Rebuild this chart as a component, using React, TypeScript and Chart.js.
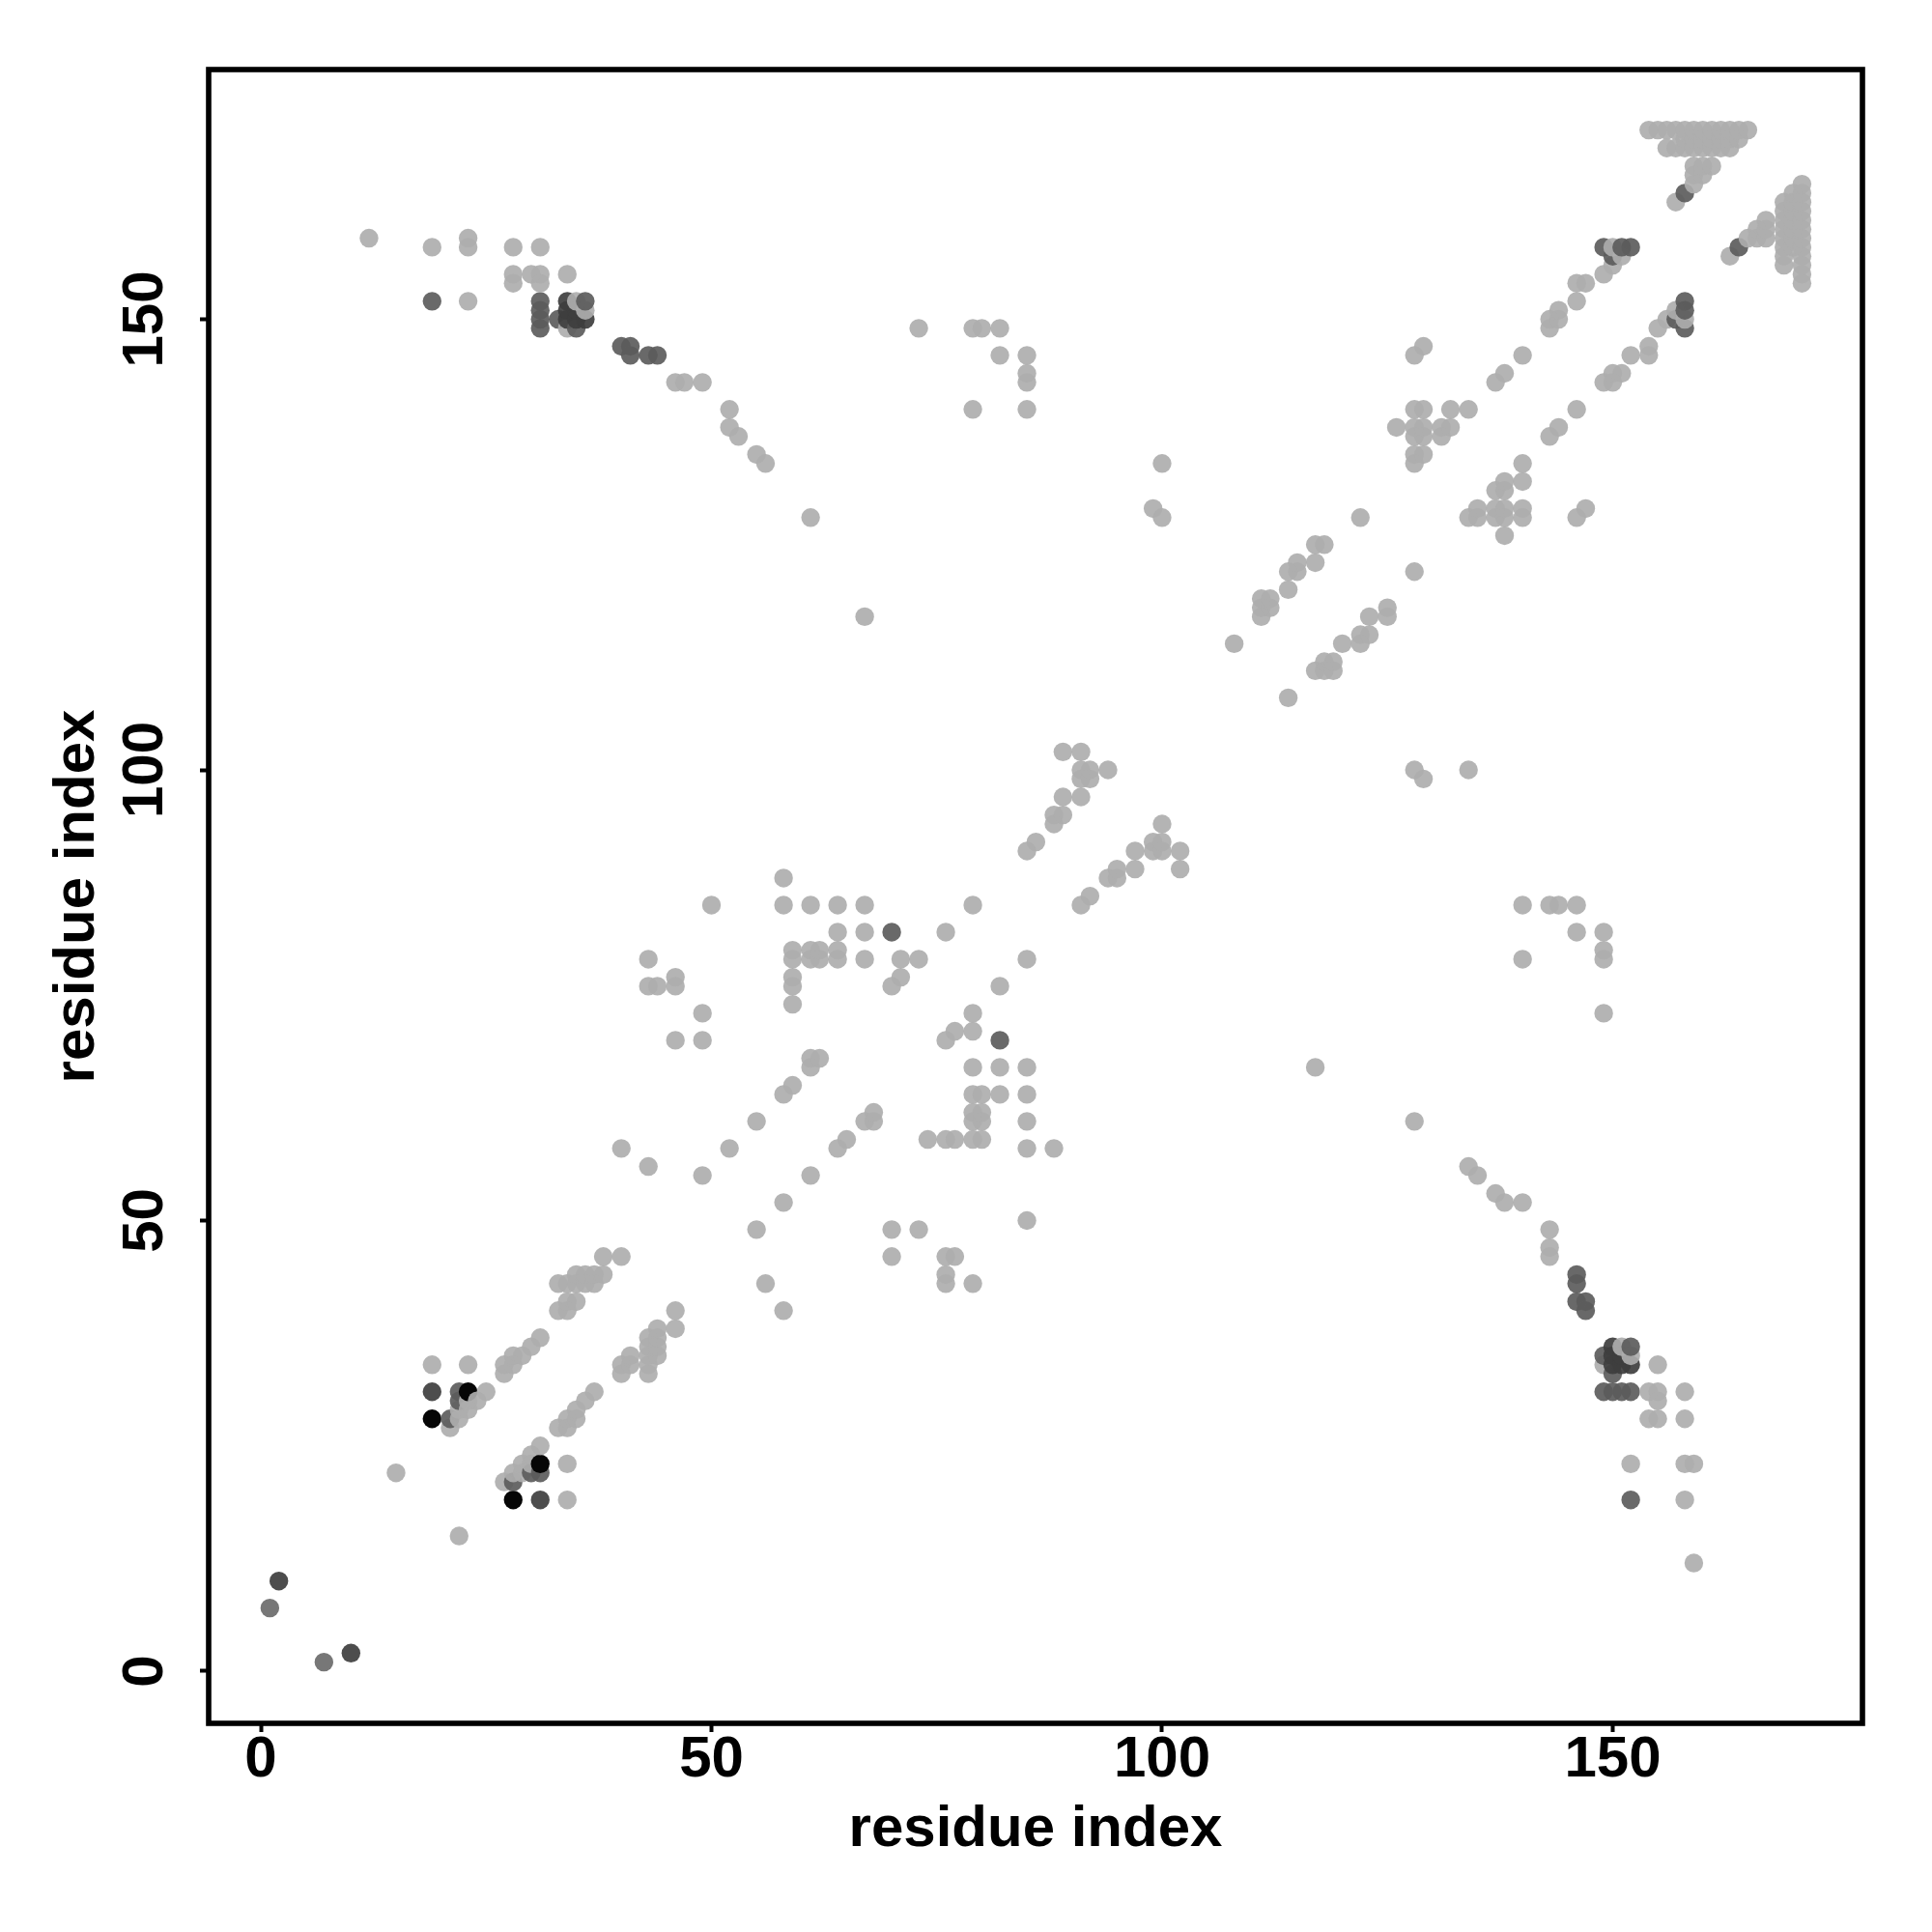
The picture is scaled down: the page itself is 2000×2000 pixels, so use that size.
import React, { useEffect, useRef } from "react";
import { Chart, registerables } from "chart.js";

Chart.register(...registerables);

type Pair = [number, number];

const tickValues = [0, 50, 100, 150];
const axisTitle = "residue index";

// Contacts are symmetric: each pair [i, j] appears at (i, j) and (j, i).
const lightContacts: Pair[] = [
  [15, 22], [19, 34], [23, 34], [21, 27], [22, 28], [22, 29], [23, 29], [23, 30], [24, 30], [25, 31],
  [27, 33], [27, 34], [28, 34], [28, 35], [29, 35], [30, 36], [31, 37],
  [33, 40], [34, 40], [34, 41], [35, 41], [33, 43], [34, 43], [35, 43], [36, 43], [35, 44], [36, 44],
  [37, 43], [37, 44], [38, 44], [38, 46], [40, 46],
  [40, 58], [43, 56], [43, 79], [43, 76], [44, 76], [46, 77], [46, 76], [46, 70], [49, 73], [49, 70],
  [49, 55], [50, 85], [52, 58], [55, 61], [58, 64], [59, 65], [61, 67], [61, 68], [62, 68],
  [58, 88], [58, 85], [61, 85], [64, 85], [67, 85], [79, 85], [85, 91], [86, 92],
  [64, 82], [67, 82], [76, 82], [59, 80], [59, 79], [61, 80], [61, 79], [62, 80], [62, 79], [64, 80],
  [64, 79], [67, 79], [71, 79], [73, 79], [59, 77], [59, 76], [59, 74], [71, 77], [70, 76],
  [88, 94], [88, 95], [89, 95], [89, 97], [91, 97], [89, 102], [91, 102], [91, 100], [92, 100], [91, 99],
  [92, 99], [94, 100],
  [73, 149], [79, 149], [80, 149], [82, 149], [82, 146], [85, 146], [85, 144], [85, 143], [85, 140],
  [79, 140], [100, 134], [99, 129], [100, 128], [67, 117], [61, 128],
  [12, 159], [19, 158], [23, 159], [23, 158], [28, 158], [31, 158], [28, 155], [28, 154], [30, 155],
  [31, 155], [31, 154], [34, 155], [23, 152], [34, 149], [35, 152], [36, 151],
  [46, 143], [47, 143], [49, 143], [52, 140], [52, 138], [53, 137], [55, 135], [56, 134],
  [108, 114], [111, 117], [111, 118], [111, 119], [112, 118], [112, 119], [114, 120], [114, 122],
  [115, 122], [115, 123], [117, 123], [117, 125], [118, 125], [122, 128],
  [128, 146], [129, 147], [137, 143], [138, 144], [140, 146], [143, 149], [143, 150], [144, 150],
  [144, 151], [146, 152], [128, 140], [129, 140], [132, 140], [134, 140], [126, 138], [128, 138],
  [129, 138], [128, 137], [129, 137], [131, 138], [132, 138], [131, 137], [128, 135], [129, 135], [128, 134],
  [146, 154], [147, 154], [149, 155], [150, 156], [151, 157], [150, 158],
  [154, 171], [155, 171], [156, 171], [157, 171], [158, 171], [159, 171], [160, 171], [161, 171],
  [162, 171], [163, 171], [164, 171], [165, 171],
  [158, 170], [159, 170], [160, 170], [161, 170], [162, 170], [163, 170], [164, 170],
  [156, 169], [157, 169], [158, 169], [159, 169], [160, 169], [161, 169], [162, 169], [163, 169],
  [159, 167], [160, 167], [161, 167], [159, 166], [160, 166], [159, 165], [157, 163],
];

const paleDarkContacts: Pair[] = [[1, 7]];

const mediumContacts: Pair[] = [
  [21, 28], [22, 30], [22, 31], [19, 152], [31, 149], [31, 150], [31, 151], [31, 152], [33, 150],
  [35, 149], [36, 152], [40, 147], [41, 147], [41, 146], [43, 146], [44, 146], [70, 82],
  [149, 158], [150, 157], [151, 158], [152, 158], [158, 164],
];

const darkContacts: Pair[] = [
  [2, 10], [19, 31], [34, 152], [34, 151], [34, 150], [35, 151], [35, 150], [36, 150],
];

const blackContacts: Pair[] = [[19, 28], [23, 31]];

const shadeGroups: [Pair[], string][] = [
  [lightContacts, "rgba(174,174,174,0.92)"],
  [paleDarkContacts, "rgba(119,119,119,1)"],
  [mediumContacts, "rgba(92,92,92,0.92)"],
  [darkContacts, "rgba(62,62,62,0.92)"],
  [blackContacts, "rgba(6,6,6,1)"],
];

const points = shadeGroups
  .flatMap(([pairs, color]) =>
    pairs.flatMap(([i, j]) => [
      { x: i, y: j, color },
      { x: j, y: i, color },
    ])
  )
  .sort((a, b) => a.x - b.x || a.y - b.y);

const FONT = "'Liberation Sans', Arial, sans-serif";

const frame = {
  id: "frame",
  afterDraw(chart: any) {
    const { ctx, chartArea: a } = chart;
    ctx.save();
    ctx.strokeStyle = "#000";
    ctx.lineWidth = 5.6;
    ctx.lineJoin = "miter";
    ctx.strokeRect(a.left, a.top, a.right - a.left, a.bottom - a.top);
    ctx.restore();
  },
};

function axisBase() {
  return {
    type: "linear" as const,
    min: -5.79,
    max: 177.71,
    afterBuildTicks(scale: any) {
      scale.ticks = tickValues.map((value) => ({ value }));
    },
    grid: {
      display: true,
      drawOnChartArea: false,
      drawTicks: true,
      tickLength: 9,
      tickWidth: 4,
      tickColor: "#000",
    },
    border: { display: false },
  };
}

export default function App() {
  const ref = useRef<HTMLCanvasElement>(null);

  useEffect(() => {
    const chart = new Chart(ref.current!, {
      type: "scatter",
      data: {
        datasets: [
          {
            data: points.map((p) => ({ x: p.x, y: p.y })),
            pointRadius: 9.7,
            pointHoverRadius: 9.7,
            pointBorderWidth: 0,
            pointBackgroundColor: points.map((p) => p.color),
          },
        ],
      },
      options: {
        animation: false,
        responsive: false,
        devicePixelRatio: 1,
        layout: { padding: { top: 72, right: 72, left: 0, bottom: 0 } },
        plugins: { legend: { display: false }, tooltip: { enabled: false } },
        scales: {
          x: {
            ...axisBase(),
            position: "bottom",
            afterFit(scale: any) {
              scale.height = 216;
            },
            ticks: {
              color: "#000",
              padding: -7,
              maxRotation: 0,
              minRotation: 0,
              font: { family: FONT, weight: "bold", size: 60 },
            },
            title: {
              display: true,
              text: axisTitle,
              color: "#000",
              font: { family: FONT, weight: "bold", size: 60 },
              padding: { top: 0, bottom: 70 },
            },
          },
          y: {
            ...axisBase(),
            position: "left",
            afterFit(scale: any) {
              scale.width = 216;
            },
            ticks: {
              color: "#000",
              padding: 5,
              minRotation: 90,
              maxRotation: 90,
              crossAlign: "center",
              font: { family: FONT, weight: "bold", size: 60 },
            },
            title: {
              display: true,
              text: axisTitle,
              color: "#000",
              font: { family: FONT, weight: "bold", size: 60 },
              padding: { top: 44, bottom: 0 },
            },
          },
        },
      } as any,
      plugins: [frame],
    });
    return () => chart.destroy();
  }, []);

  return (
    <div style={{ position: "absolute", left: 0, top: 0, width: 2000, height: 2000, background: "#fff" }}>
      <canvas ref={ref} width={2000} height={2000} style={{ display: "block" }} />
    </div>
  );
}
